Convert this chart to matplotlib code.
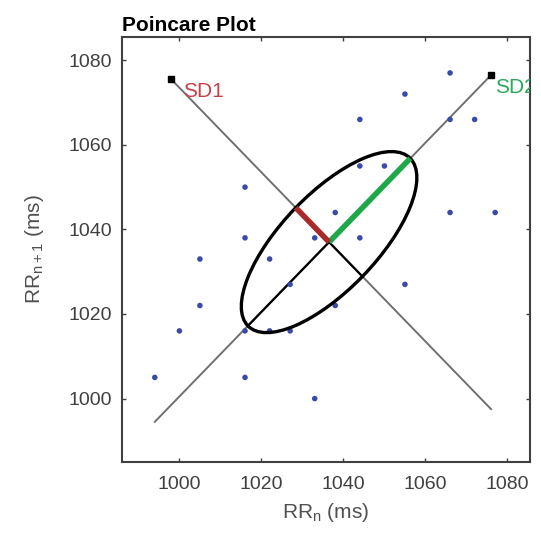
import numpy as np
import matplotlib.pyplot as plt
from matplotlib.patches import Ellipse

plt.rcParams['font.family'] = ['Liberation Sans', 'DejaVu Sans']

# RR intervals
rr_n = [994, 1000, 1005, 1005, 1016, 1016, 1016, 1016, 1022, 1022, 1027, 1027, 1033, 1033,
        1038, 1038, 1044, 1044, 1044, 1050, 1055, 1055, 1066, 1066, 1066, 1072, 1077]
rr_n1 = [1005, 1016, 1022, 1033, 1050, 1038, 1005, 1016, 1033, 1016, 1016, 1027, 1000, 1038,
         1044, 1022, 1038, 1055, 1066, 1055, 1027, 1072, 1077, 1066, 1044, 1066, 1044]

center = (1036.5, 1037.0)
sd1 = 11.5
sd2 = 28.0
ident_x = [994, 1076]        # line of identity ends
perp_x = [998, 1076]         # perpendicular line ends
ticks = [1000, 1020, 1040, 1060, 1080]

fig = plt.figure(figsize=(5.41, 5.33), dpi=100)
ax = fig.add_axes([0.2255, 0.1332, 0.7542, 0.7974])

cx, cy = center
u = 1 / np.sqrt(2)

ax.plot(ident_x, [cy + (x - cx) for x in ident_x], color='#707070', lw=1.4, zorder=1)
ax.plot(perp_x, [cy - (x - cx) for x in perp_x], color='#707070', lw=1.4, zorder=1)
ax.plot([ident_x[1]], [cy + ident_x[1] - cx], 's', color='k', ms=4, zorder=4)
ax.plot([perp_x[0]], [cy - (perp_x[0] - cx)], 's', color='k', ms=4, zorder=4)

# inner part of the axes lines drawn in black
ax.plot([cx - sd2 * u, cx], [cy - sd2 * u, cy], color='k', lw=1.6, zorder=2)
ax.plot([cx, cx + sd1 * u], [cy, cy - sd1 * u], color='k', lw=1.6, zorder=2)

ax.scatter(rr_n, rr_n1, s=16, color='#3a4aa8', zorder=3, edgecolors='none')

ell = Ellipse(center, width=2 * sd2, height=2 * sd1, angle=45, fill=False,
              edgecolor='k', lw=2.4, zorder=4)
ax.add_patch(ell)

ax.plot([cx, cx + sd2 * u], [cy, cy + sd2 * u], color='#1fa84a', lw=4, zorder=5,
        solid_capstyle='butt')
ax.plot([cx, cx - sd1 * u], [cy, cy + sd1 * u], color='#a82a2a', lw=4, zorder=5,
        solid_capstyle='butt')

ax.text(perp_x[0] + 3, cy - (perp_x[0] - cx) - 3, 'SD1', color='#c8404a', fontsize=15,
        va='center', ha='left')
ax.text(ident_x[1] + 1, cy + ident_x[1] - cx - 3, 'SD2', color='#2aa85a', fontsize=15,
        va='center', ha='left', clip_on=True)

ax.set_xlim(986, 1085.5)
ax.set_ylim(985, 1085.5)
ax.set_xticks(ticks)
ax.set_yticks(ticks)
ax.tick_params(direction='in', length=3, width=1, top=True, right=True,
               labelsize=14, labelcolor='#404040', color='#404040', pad=7)
ax.tick_params(axis='x', pad=10)
for s in ax.spines.values():
    s.set_linewidth(1.5)
    s.set_color('#404040')

ax.set_xlabel('RR$_\\mathregular{n}$ (ms)', fontsize=15, color='#505050', labelpad=6)
ax.set_ylabel('RR$_\\mathregular{n+1}$ (ms)', fontsize=15, color='#505050', labelpad=16)
ax.set_title('Poincare Plot', loc='left', fontsize=15, fontweight='bold', pad=4)

fig.savefig('out.png', dpi=100)
